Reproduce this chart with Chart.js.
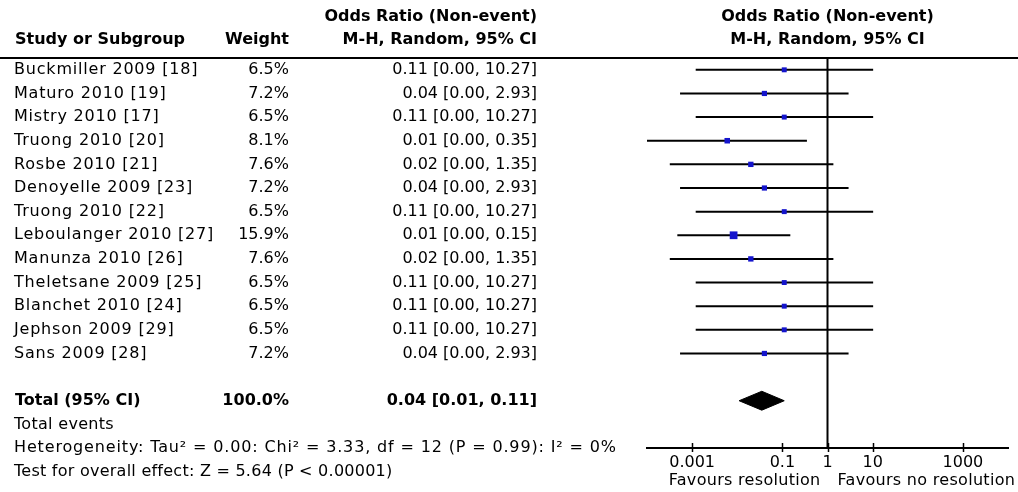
<!DOCTYPE html>
<html>
<head>
<meta charset="utf-8">
<script src="https://cdn.jsdelivr.net/npm/chart.js@4"></script>
<style>
  html, body { margin: 0; padding: 0; background: #fff; }
</style>
</head>
<body>
<canvas id="forestChart" width="1018" height="492"></canvas>
<script>
// study rows (top to bottom)
const studies = [
    'Buckmiller 2009 [18]', 'Maturo 2010 [19]', 'Mistry 2010 [17]', 'Truong 2010 [20]',
    'Rosbe 2010 [21]', 'Denoyelle 2009 [23]', 'Truong 2010 [22]', 'Leboulanger 2010 [27]',
    'Manunza 2010 [26]', 'Theletsane 2009 [25]', 'Blanchet 2010 [24]', 'Jephson 2009 [29]',
    'Sans 2009 [28]'
];
const weights = [6.5, 7.2, 6.5, 8.1, 7.6, 7.2, 6.5, 15.9, 7.6, 6.5, 6.5, 6.5, 7.2];
const ciLabels = [
    '0.11 [0.00, 10.27]', '0.04 [0.00, 2.93]', '0.11 [0.00, 10.27]', '0.01 [0.00, 0.35]',
    '0.02 [0.00, 1.35]', '0.04 [0.00, 2.93]', '0.11 [0.00, 10.27]', '0.01 [0.00, 0.15]',
    '0.02 [0.00, 1.35]', '0.11 [0.00, 10.27]', '0.11 [0.00, 10.27]', '0.11 [0.00, 10.27]',
    '0.04 [0.00, 2.93]'
];
// values as plotted (the "0.00" lower limits are not really zero)
const oddsRatio = [0.11, 0.04, 0.11, 0.006, 0.02, 0.04, 0.11, 0.0083, 0.02, 0.11, 0.11, 0.11, 0.04];
const ciLower = [0.0012, 0.00054, 0.0012, 0.0001, 0.00032, 0.00054, 0.0012, 0.00047, 0.00032, 0.0012, 0.0012, 0.0012, 0.00054];
const ciUpper = [10.27, 2.93, 10.27, 0.35, 1.35, 2.93, 10.27, 0.15, 1.35, 10.27, 10.27, 10.27, 2.93];

// pooled estimate
const totalOR = [0.035];
const totalLower = [0.011];
const totalUpper = [0.11];
const totalRow = 14;

const tickValues = [0.001, 0.1, 1, 10, 1000];

const FONT = '"DejaVu Sans", Verdana, sans-serif';
const fontSize = 16;

// draws the table on the left, headers, ticks and footers
const tablePlugin = {
    id: 'forestTable',
    afterDraw(chart) {
        const c = chart.ctx;
        const ys = chart.scales.y;
        const xs = chart.scales.x;
        const area = chart.chartArea;
        c.save();
        c.fillStyle = '#000';
        c.strokeStyle = '#000';

        // header rule
        c.lineWidth = 2;
        c.beginPath();
        c.moveTo(0, area.top);
        c.lineTo(chart.width, area.top);
        c.stroke();

        // tick marks across the axis line
        c.lineWidth = 1.5;
        tickValues.forEach(v => {
            const x = Math.round(xs.getPixelForValue(v)) + 0.5;
            c.beginPath();
            c.moveTo(x, area.bottom - 5);
            c.lineTo(x, area.bottom + 4);
            c.stroke();
        });

        c.textBaseline = 'middle';
        const bold = 'bold ' + fontSize + 'px ' + FONT;
        const normal = fontSize + 'px ' + FONT;

        // headers
        c.font = bold;
        c.letterSpacing = '0px';
        c.textAlign = 'left';
        c.fillText('Study or Subgroup', 15, 40);
        c.textAlign = 'right';
        c.fillText('Weight', 289, 40);
        c.fillText('Odds Ratio (Non-event)', 537, 17);
        c.fillText('M-H, Random, 95% CI', 537, 40);
        const xOne = xs.getPixelForValue(1);
        c.textAlign = 'center';
        c.fillText('Odds Ratio (Non-event)', xOne, 17);
        c.fillText('M-H, Random, 95% CI', xOne, 40);

        // study rows
        c.font = normal;
        studies.forEach((name, i) => {
            const y = ys.getPixelForValue(i);
            c.letterSpacing = '0.8px';
            c.textAlign = 'left';
            c.fillText(name, 14, y);
            c.letterSpacing = '0px';
            c.textAlign = 'right';
            c.fillText(weights[i].toFixed(1) + '%', 289, y);
            c.fillText(ciLabels[i], 537, y);
        });

        // total
        let y = ys.getPixelForValue(totalRow);
        c.font = bold;
        c.letterSpacing = '0px';
        c.textAlign = 'left';
        c.fillText('Total (95% CI)', 15, y);
        c.textAlign = 'right';
        c.fillText('100.0%', 289, y);
        c.fillText('0.04 [0.01, 0.11]', 537, y);

        c.font = normal;
        c.textAlign = 'left';
        c.letterSpacing = '0.3px';
        c.fillText('Total events', 14, ys.getPixelForValue(totalRow + 1));
        c.letterSpacing = '0.85px';
        c.fillText('Heterogeneity: Tau\u00B2 = 0.00: Chi\u00B2 = 3.33, df = 12 (P = 0.99): I\u00B2 = 0%', 14, ys.getPixelForValue(totalRow + 2));
        c.letterSpacing = '0.25px';
        c.fillText('Test for overall effect: Z = 5.64 (P < 0.00001)', 14, ys.getPixelForValue(totalRow + 3));

        // favours labels
        c.letterSpacing = '0.3px';
        c.textAlign = 'right';
        c.fillText('Favours resolution', xOne - 7, 481);
        c.textAlign = 'left';
        c.fillText('Favours no resolution', xOne + 10, 481);
        c.restore();
    }
};

const ciDatasets = studies.map((name, i) => ({
    label: name,
    data: [{ x: ciLower[i], y: i }, { x: ciUpper[i], y: i }],
    showLine: true,
    borderColor: '#000',
    borderWidth: 2,
    pointRadius: 0,
    order: 2
}));

const ctx = document.getElementById('forestChart').getContext('2d');
new Chart(ctx, {
    type: 'scatter',
    data: {
        datasets: [
            {
                label: 'Odds ratio',
                data: studies.map((s, i) => ({ x: oddsRatio[i], y: i })),
                pointStyle: 'rect',
                pointRadius: weights.map(w => 3.5 * Math.sqrt(w / 6.5)),
                backgroundColor: '#1414cc',
                borderColor: '#1414cc',
                borderWidth: 0,
                order: 0
            },
            ...ciDatasets,
            {
                label: 'No effect',
                data: [{ x: 1, y: -0.5 }, { x: 1, y: 16 }],
                showLine: true,
                borderColor: '#000',
                borderWidth: 2,
                pointRadius: 0,
                order: 3
            },
            {
                label: 'Total',
                data: [
                    { x: totalLower[0], y: totalRow },
                    { x: totalOR[0], y: totalRow - 0.4 },
                    { x: totalUpper[0], y: totalRow },
                    { x: totalOR[0], y: totalRow + 0.4 },
                    { x: totalLower[0], y: totalRow }
                ],
                showLine: true,
                fill: 'shape',
                borderColor: '#000',
                backgroundColor: '#000',
                borderWidth: 1,
                pointRadius: 0,
                order: 1
            }
        ]
    },
    options: {
        responsive: false,
        animation: false,
        layout: { padding: { left: 647, right: 10, top: 58, bottom: 0 } },
        plugins: {
            legend: { display: false },
            tooltip: { enabled: false }
        },
        scales: {
            x: {
                type: 'logarithmic',
                min: 0.0001,
                max: 10000,
                afterBuildTicks: (scale) => {
                    scale.ticks = tickValues.map(v => ({ value: v }));
                },
                afterFit: (scale) => {
                    scale.height = 44;
                },
                grid: { display: false, drawTicks: false },
                border: { display: true, color: '#000', width: 2 },
                ticks: {
                    color: '#000',
                    font: { family: FONT, size: fontSize },
                    padding: 5,
                    autoSkip: false,
                    maxRotation: 0,
                    callback: (v) => String(v)
                }
            },
            y: {
                type: 'linear',
                reverse: true,
                min: -0.5,
                max: 16,
                display: false
            }
        }
    },
    plugins: [tablePlugin]
});
</script>
</body>
</html>
